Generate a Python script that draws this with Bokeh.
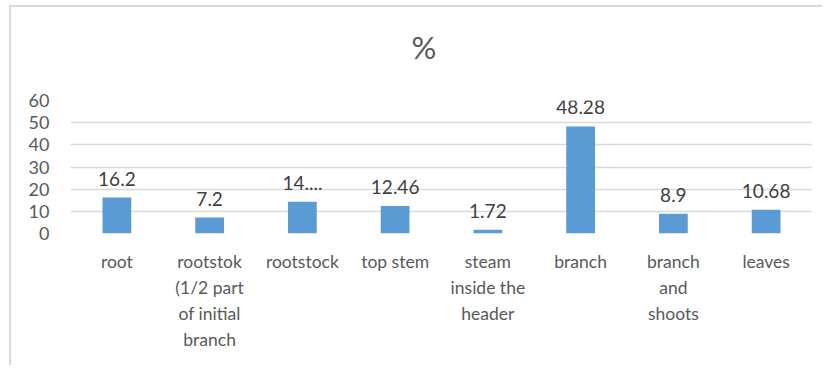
from bokeh.plotting import figure
from bokeh.models import FactorRange, Range1d, FixedTicker, ColumnDataSource
from bokeh.embed import file_html
from bokeh.resources import INLINE
from bokeh.core.properties import value

# ---- data ----
categories = ["root", "rootstok\n(1/2 part\nof initial\nbranch", "rootstock", "top stem",
              "steam\ninside the\nheader", "branch", "branch\nand\nshoots", "leaves"]
values = [16.2, 7.2, 14.3, 12.46, 1.72, 48.28, 8.9, 10.68]
value_labels = ["16.2", "7.2", "14....", "12.46", "1.72", "48.28", "8.9", "10.68"]
y_ticks = [0, 10, 20, 30, 40, 50, 60]
title_text = "%"

FONT = "Lato"
TXT = "#595959"

source = ColumnDataSource(dict(cat=categories, val=values, lab=value_labels))

p = figure(
    x_range=FactorRange(factors=categories, range_padding=0),
    y_range=Range1d(0, 60),
    width=813, height=360,
    output_backend="svg", toolbar_location=None,
    min_border_left=59, min_border_right=12, min_border_top=93, min_border_bottom=134,
)
p.styles = {"border-top": "2px solid #D9D9D9", "border-left": "2px solid #D9D9D9",
            "margin-left": "9px", "margin-top": "5px"}
p.outline_line_color = None
p.background_fill_color = "white"
p.border_fill_color = "white"

p.title.text = title_text
p.title.align = "left"
p.title.offset = 341
p.title.text_font = FONT
p.title.text_font_size = "31px"
p.title.text_font_style = "normal"
p.title.text_color = TXT
try:
    p.title.padding = dict(left=0, right=0, top=0, bottom=35)
    p.title.standoff = 0
    p.title.vertical_align = "bottom"
except Exception:
    p.title.padding = 0
    p.title.vertical_align = "top"
    p.title.standoff = 54

p.vbar(x="cat", top="val", width=0.31, source=source, fill_color="#5B9BD5", line_color=None)
p.text(x="cat", y="val", text="lab", source=source, text_align="center",
       text_baseline="alphabetic", y_offset=-19, text_font=value(FONT),
       text_font_size="19px", text_color="#404040")

p.xgrid.grid_line_color = None
p.ygrid.grid_line_color = "#D9D9D9"
p.ygrid.grid_line_width = 1.5

p.yaxis.ticker = FixedTicker(ticks=y_ticks)
for ax in (p.xaxis[0], p.yaxis[0]):
    ax.axis_line_color = None
    ax.major_tick_line_color = None
    ax.minor_tick_line_color = None
    ax.major_tick_out = 0
    ax.major_tick_in = 0
    ax.major_label_text_font = FONT
    ax.major_label_text_color = TXT
p.yaxis.major_label_text_font_size = "18px"
p.xaxis.major_label_text_font_size = "17.5px"
p.yaxis.major_label_standoff = 21
p.xaxis.major_label_standoff = 17
p.xaxis.major_label_text_line_height = 1.25

open("out.html", "w").write(file_html(p, INLINE))
